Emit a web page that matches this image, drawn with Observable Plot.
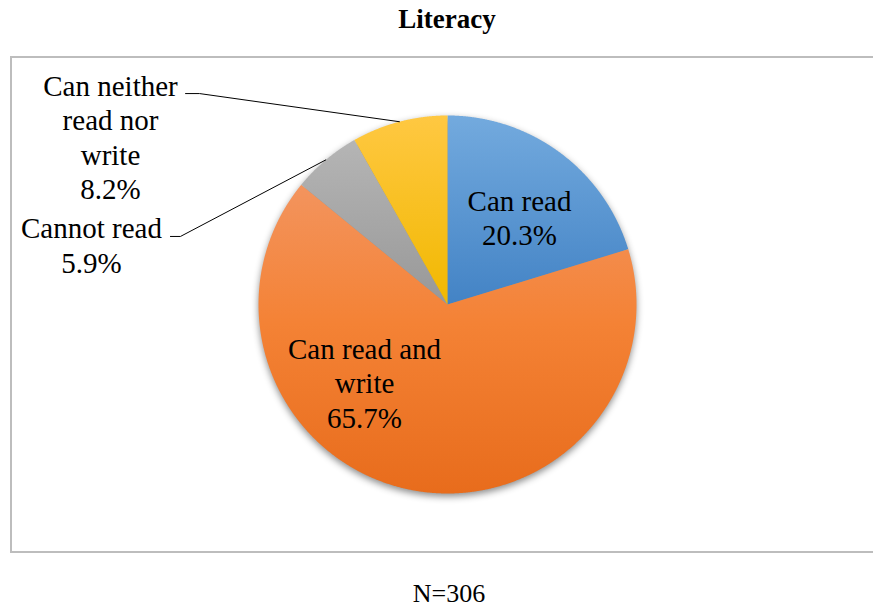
<!DOCTYPE html>
<html>
<head>
<meta charset="utf-8">
<script src="https://cdn.jsdelivr.net/npm/d3@7"></script>
<script src="https://cdn.jsdelivr.net/npm/@observablehq/plot@0.6"></script>
<style>
  html, body { margin: 0; padding: 0; background: #fff; }
  body { width: 873px; height: 608px; position: relative; overflow: hidden; font-family: "Liberation Serif", serif; }
  #title { position: absolute; left: 0; top: 6px; width: 894px; text-align: center; font-size: 27px; line-height: 26px; font-weight: bold; color: #000; }
  #box { position: absolute; left: 10px; top: 56px; width: 880px; height: 497px; box-sizing: border-box; border: 2px solid #bdbdbd; }
  #box svg { display: block; }
  #caption { position: absolute; left: 0; top: 581px; width: 898px; text-align: center; font-size: 26px; line-height: 26px; color: #000; }
</style>
</head>
<body>
<div id="title">Literacy</div>
<div id="box"></div>
<div id="caption">N=306</div>
<script>
// ---- data ----
const categories = ["Can read", "Can read and write", "Cannot read", "Can neither read nor write"];
const percents = [20.3, 65.7, 5.9, 8.2];
const wrappedNames = ["Can read", "Can read and\nwrite", "Cannot read", "Can neither\nread nor\nwrite"];

// ---- styles ----
const gradients = [
  [["0%", "#73aade"], ["100%", "#4383c5"]],
  [["0%", "#f3945e"], ["45%", "#f48235"], ["100%", "#e86c1c"]],
  [["0%", "#b5b5b5"], ["100%", "#989898"]],
  [["0%", "#ffc842"], ["100%", "#f1b800"]]
];

// ---- layout (in pie-radius units, centre at 0,0) ----
const labelPos = [
  {x: 0.381, y: 0.463},
  {x: -0.439, y: -0.41},
  {x: -1.884, y: 0.317},
  {x: -1.783, y: 0.889}
];
const leaders = [
  null,
  null,
  {start: {x: -1.466, y: 0.36}, knee: {x: -1.413, y: 0.36}},
  {start: {x: -1.386, y: 1.116}, knee: {x: -1.312, y: 1.116}}
];

const arcs = d3.pie().sort(null).value(d => d)(percents);

const slices = arcs.map((p, i) => {
  const pts = [{x: 0, y: 0}];
  const n = Math.max(2, Math.ceil((p.endAngle - p.startAngle) / 0.004));
  for (let k = 0; k <= n; k++) {
    const a = p.startAngle + (p.endAngle - p.startAngle) * k / n;
    pts.push({x: Math.sin(a), y: Math.cos(a)});
  }
  pts.push({x: 0, y: 0});
  return pts;
});

const leaderLines = arcs.map((p, i) => {
  if (!leaders[i]) return null;
  const m = (p.startAngle + p.endAngle) / 2;
  return [leaders[i].start, leaders[i].knee, {x: Math.sin(m), y: Math.cos(m)}];
}).filter(d => d);

const labels = categories.map((c, i) => ({
  x: labelPos[i].x,
  y: labelPos[i].y,
  text: wrappedNames[i] + "\n" + percents[i].toFixed(1) + "%"
}));

const svg = Plot.plot({
  width: 876,
  height: 493,
  x: {domain: [-1, 1], range: [246, 624], axis: null},
  y: {domain: [-1, 1], range: [435, 57], axis: null},
  style: {background: "transparent", overflow: "visible", fontFamily: "'Liberation Serif', serif"},
  marks: [
    ...slices.map((pts, i) => Plot.line(pts, {x: "x", y: "y", fill: `url(#grad${i})`, stroke: "none", curve: "linear"})),
    ...leaderLines.map(pts => Plot.line(pts, {x: "x", y: "y", stroke: "black", strokeWidth: 1, curve: "linear"})),
    Plot.text(labels, {x: "x", y: "y", text: "text", fontSize: 29, fontFamily: "Liberation Serif", lineHeight: 1.19, lineAnchor: "middle", fill: "black"})
  ]
});

// gradient definitions
const ns = "http://www.w3.org/2000/svg";
const defs = document.createElementNS(ns, "defs");
gradients.forEach((stops, i) => {
  const g = document.createElementNS(ns, "linearGradient");
  g.setAttribute("id", `grad${i}`);
  g.setAttribute("x1", "0"); g.setAttribute("y1", "0");
  g.setAttribute("x2", "0"); g.setAttribute("y2", "1");
  stops.forEach(([o, c]) => {
    const s = document.createElementNS(ns, "stop");
    s.setAttribute("offset", o);
    s.setAttribute("stop-color", c);
    g.appendChild(s);
  });
  defs.appendChild(g);
});
svg.insertBefore(defs, svg.firstChild);

// group the slices under one CSS drop shadow
const lineGroups = Array.from(svg.querySelectorAll('g[aria-label="line"]')).slice(0, slices.length);
if (lineGroups.length) {
  const wrap = document.createElementNS(ns, "g");
  wrap.style.filter = "drop-shadow(0px 3px 3.5px rgba(0,0,0,0.45))";
  lineGroups[0].parentNode.insertBefore(wrap, lineGroups[0]);
  lineGroups.forEach(g => wrap.appendChild(g));
}

document.getElementById("box").appendChild(svg);
</script>
</body>
</html>
